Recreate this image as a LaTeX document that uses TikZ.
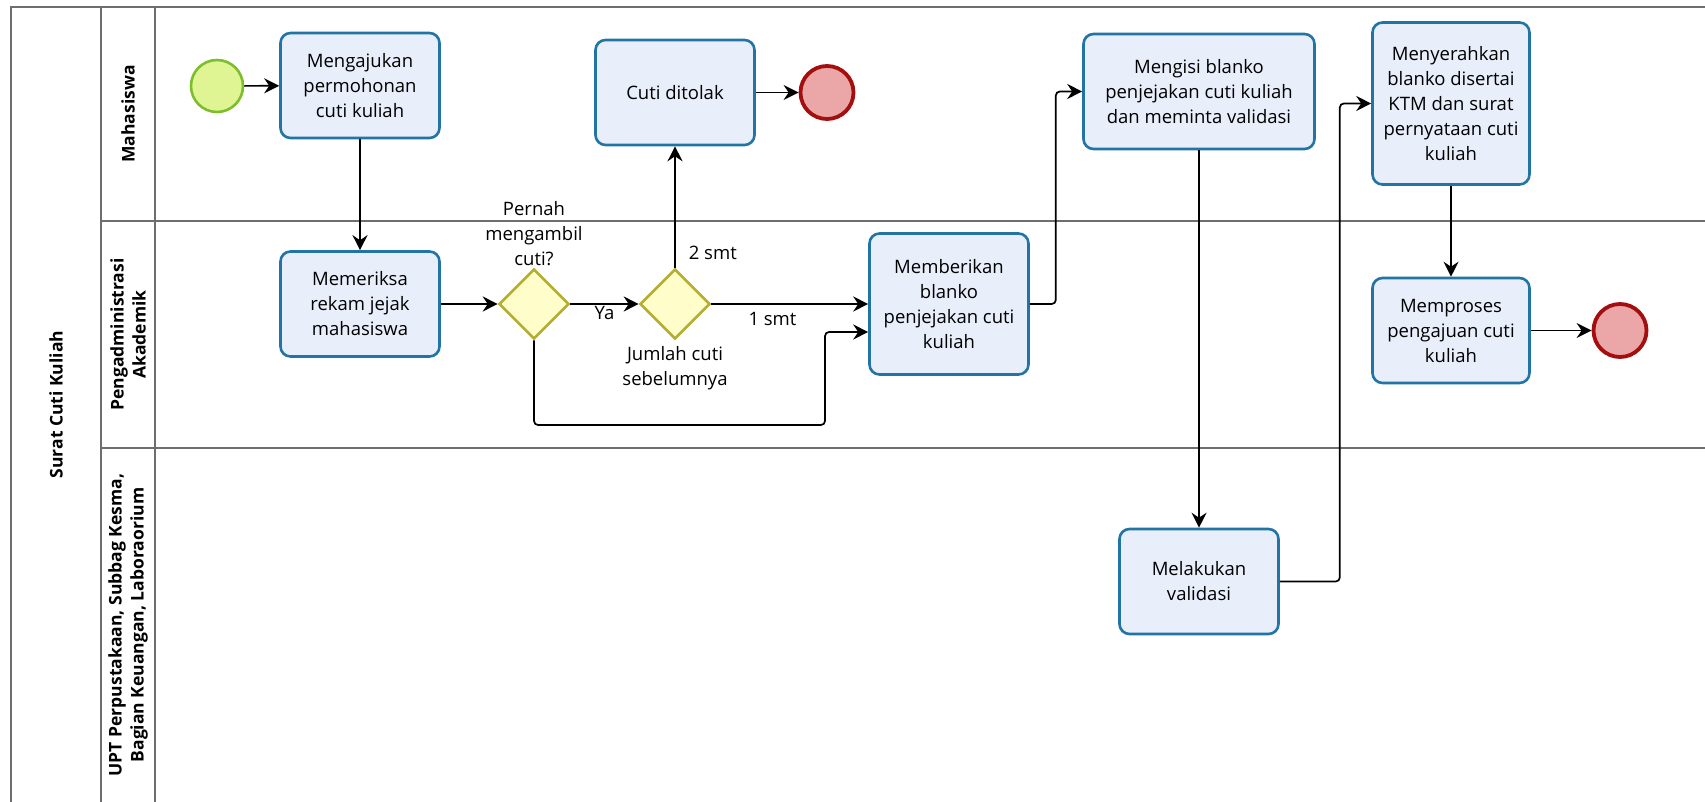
\documentclass[tikz,border=0pt]{standalone}
\usepackage{fontspec}
\setmainfont{Open Sans}
\usetikzlibrary{positioning,arrows.meta,shapes.geometric}

\definecolor{taskfill}{HTML}{E9EEFB}
\definecolor{taskline}{HTML}{2274A5}
\definecolor{gatefill}{HTML}{FFFDCA}
\definecolor{gateline}{HTML}{B4AF32}
\definecolor{startfill}{HTML}{DFF594}
\definecolor{startline}{HTML}{7CBE2C}
\definecolor{endfill}{HTML}{EBA7A7}
\definecolor{endline}{HTML}{A50E0E}
\definecolor{laneline}{HTML}{6E6E6E}

\begin{document}
\begin{tikzpicture}[x=1pt, y=-1pt,
  task/.style={draw=taskline, fill=taskfill, line width=2.6pt, rounded corners=10pt,
    align=center, minimum width=159pt, minimum height=105pt, inner sep=2pt,
    font=\fontsize{18.5}{25}\selectfont},
  gate/.style={diamond, draw=gateline, fill=gatefill, line width=2.6pt,
    minimum width=70pt, minimum height=70pt, inner sep=0pt},
  startev/.style={circle, draw=startline, fill=startfill, line width=2.6pt,
    minimum size=52pt, inner sep=0pt},
  endev/.style={circle, draw=endline, fill=endfill, line width=3.8pt,
    minimum size=53pt, inner sep=0pt},
  flow/.style={-{Stealth[length=15pt,width=15pt,inset=5pt]}, line width=1.7pt, rounded corners=4pt},
  lbl/.style={align=center, font=\fontsize{18.5}{25}\selectfont, inner sep=1pt},
  lane/.style={draw=laneline, line width=1.4pt},
  lanetext/.style={rotate=90, align=center, font=\fontsize{17.5}{22}\selectfont\bfseries}
]
\useasboundingbox (0,0) rectangle (1705,802);

% pool and lanes
\draw[lane] (11,802) -- (11,7) -- (1705,7);
\draw[lane] (101,7) -- (101,802);
\draw[lane] (155,7) -- (155,802);
\draw[lane] (101,221) -- (1705,221);
\draw[lane] (101,448) -- (1705,448);

\node[lanetext] (pool) at (56,404.5) {Surat Cuti Kuliah};
\node[lanetext] (mhs) at (128,114) {Mahasiswa};
\node[lanetext] (akad) at (128,334.5) {Pengadministrasi\\Akademik};
\node[lanetext] (upt) at (128,625) {UPT Perpustakaan, Subbag Kesma,\\Bagian Keuangan, Laboraorium};

% nodes
\node[startev] (start) at (217,86) {};
\node[task] (ajukan) at (360,85.5) {Mengajukan\\permohonan\\cuti kuliah};
\node[task] (periksa) at (360,304) {Memeriksa\\rekam jejak\\mahasiswa};
\node[gate] (gw1) at (534,304) {};
\node[gate] (gw2) at (675,304) {};
\node[task] (tolak) at (675,92.5) {Cuti ditolak};
\node[endev] (end1) at (827,92.5) {};
\node[task, minimum height=141pt] (beri) at (949,304) {Memberikan\\blanko\\penjejakan cuti\\kuliah};
\node[task, minimum width=231pt, minimum height=115pt] (isi) at (1199,91.5)
  {Mengisi blanko\\penjejakan cuti kuliah\\dan meminta validasi};
\node[task, minimum height=105pt] (valid) at (1199,581.5) {Melakukan\\validasi};
\node[task, minimum width=157pt, minimum height=162pt] (serah) at (1451,103.5)
  {Menyerahkan\\blanko disertai\\KTM dan surat\\pernyataan cuti\\kuliah};
\node[task, minimum width=157pt] (proses) at (1451,330.5) {Memproses\\pengajuan cuti\\kuliah};
\node[endev] (end2) at (1620,330.5) {};

\node[lbl, above=1pt of gw1] (tanya) {Pernah\\mengambil\\cuti?};
\node[lbl, below=5pt of gw2] (jumlah) {Jumlah cuti\\sebelumnya};
\coordinate (putar) at (825,425);

% edges with labels
\draw[flow] (start) -- (ajukan);
\draw[flow] (ajukan) -- (periksa);
\draw[flow] (periksa) -- (gw1);
\draw[flow] (gw1) -- (gw2) node[midway, below, lbl] {Ya};
\draw[flow] (gw2) -- (tolak) node[pos=0.12, right=12pt, lbl] {2 smt};
\draw[flow] (tolak) -- (end1);
\draw[flow] (gw2) -- (beri) node[pos=0.39, below=6pt, lbl] {1 smt};
\draw[flow] (gw1.south) |- (putar) |- ([yshift=-28pt]beri.west);
\draw[flow] (beri.east) -- ++(26,0) |- (isi.west);
\draw[flow] (isi) -- (valid);
\draw[flow] (valid.east) -- ++(60,0) |- (serah.west);
\draw[flow] (serah) -- (proses);
\draw[flow] (proses) -- (end2);

\end{tikzpicture}
\end{document}
